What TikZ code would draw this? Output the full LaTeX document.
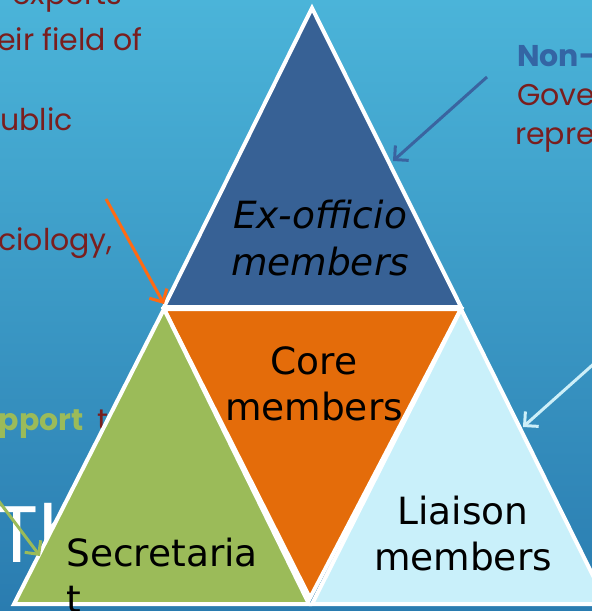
\documentclass[tikz,border=0pt]{standalone}
\usepackage{fontspec}
\setmainfont{DejaVu Sans}
\newfontfamily\gothic{Poppins}
\usetikzlibrary{arrows.meta}
\definecolor{bgtop}{HTML}{4BB4D9}
\definecolor{bgbot}{HTML}{2A7CB0}
\definecolor{exoff}{HTML}{376195}
\definecolor{coreor}{HTML}{E46C0A}
\definecolor{secgr}{HTML}{9BBB59}
\definecolor{liais}{HTML}{C9F0FA}
\definecolor{darkred}{HTML}{7A1E1E}
\definecolor{nonblue}{HTML}{3465A4}
\definecolor{arrblue}{HTML}{3A64A0}
\definecolor{arror}{HTML}{FF6A13}
\definecolor{arrlight}{HTML}{CDEFF8}
\begin{document}
\begin{tikzpicture}[x=1pt,y=-1pt,
 tri/.style={draw=white,line width=4pt,line join=miter},
 lbl/.style={font=\fontsize{37.5}{46}\selectfont,text=black,inner sep=0pt,align=center},
 side/.style={font=\gothic\fontsize{30}{40}\selectfont,text=darkred,inner sep=0pt},
 sidebold/.style={side,font=\gothic\bfseries\fontsize{30}{40}\selectfont},
 ptr/.style={line width=3pt,-{Straight Barb[length=10pt,width=20pt]}}
]
\useasboundingbox (0,0) rectangle (592,611);
\shade[top color=bgtop,bottom color=bgbot] (0,0) rectangle (592,611);
\clip (0,0) rectangle (592,611);
% side texts
\node[side,anchor=base east] (t1) at (122,4) {experts};
\node[side,anchor=base east] (t2) at (143,50) {eir field of};
\node[side,anchor=base east] (t3) at (73,130) {ublic};
\node[side,anchor=base east] (t4) at (113,250) {ciology,};
\node[sidebold,anchor=base east,text=secgr] (t5) at (84,430) {pport};
\node[side,anchor=base west] (t6) at (97,430) {t};
\node[anchor=base west,inner sep=0pt,text=white,font=\gothic\fontsize{80}{80}\selectfont] (t7) at (-5,562) {Th};
\node[sidebold,anchor=base west,text=nonblue] (r1) at (517,66) {Non-};
\node[side,anchor=base west] (r2) at (517,105) {Gove};
\node[side,anchor=base west] (r3) at (515,144) {repre};
% triangle corners
\coordinate (apex) at (312,8);
\coordinate (tl) at (164,307);
\coordinate (tr) at (461,307);
\coordinate (cl) at (164,309);
\coordinate (cr) at (461,309);
\coordinate (cb) at (310,598);
\coordinate (gl) at (14,604);
\coordinate (gr) at (309,604);
\coordinate (ll) at (312,604);
\coordinate (lr) at (607,604);
% triangles
\path[tri,fill=exoff] (apex) -- (tr) -- (tl) -- cycle;
\path[tri,fill=coreor] (cl) -- (cr) -- (cb) -- cycle;
\path[tri,fill=secgr] (cl) -- (gr) -- (gl) -- cycle;
\path[tri,fill=liais] (cr) -- (lr) -- (ll) -- cycle;
% arrows
\coordinate (b0) at (487,77); \coordinate (b1) at (393,161);
\coordinate (o0) at (106,199); \coordinate (o1) at (164,304);
\coordinate (l0) at (597,361); \coordinate (l1) at (523,427);
\coordinate (g0) at (-2,500); \coordinate (g1) at (40,556);
\draw[ptr,arrblue] (b0) -- (b1);
\draw[ptr,arror] (o0) -- (o1);
\draw[ptr,arrlight] (l0) -- (l1);
\draw[ptr,secgr] (g0) -- (g1);
% labels
\node[lbl,font=\itshape\fontsize{37.5}{47}\selectfont,anchor=base] (ex) at (320,275) {Ex-officio\\members};
\node[lbl,anchor=base] (core) at (314,420) {Core\\members};
\node[lbl,anchor=base] (liaison) at (463,570) {Liaison\\members};
\node[lbl,align=left,anchor=base west] (secr) at (66,612) {Secretaria\\t};
\end{tikzpicture}
\end{document}
